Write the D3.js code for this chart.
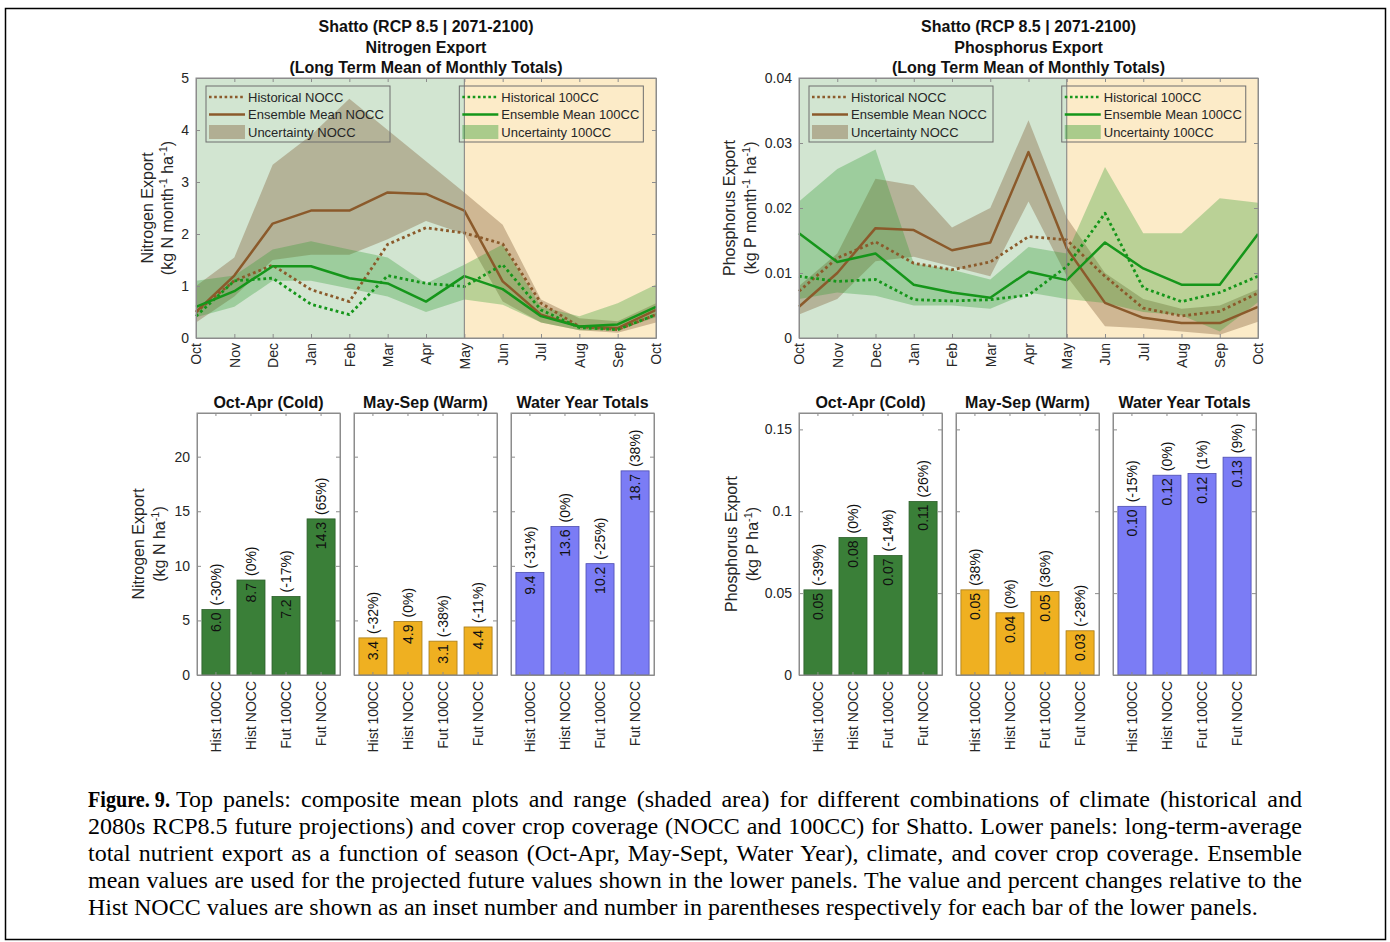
<!DOCTYPE html>
<html lang="en">
<head>
<meta charset="UTF-8">
<title>Shatto - nutrient export</title>
<script src="https://d3js.org/d3.v7.min.js"></script>
<style>
  body { margin: 0; background: #fff; }
  svg text { font-family: 'Liberation Sans', Arial, Helvetica, sans-serif; }
  svg text.caption { font-family: 'Liberation Serif', 'Times New Roman', serif; }
</style>
</head>
<body>
<div class="canvas"></div>
<script>
// ---- data: monthly curves (Oct .. Oct) ----
const months = ['Oct', 'Nov', 'Dec', 'Jan', 'Feb', 'Mar', 'Apr', 'May', 'Jun', 'Jul', 'Aug', 'Sep', 'Oct']

// nitrogen, kg N month-1 ha-1
const nHistNOCC = [0.5, 1.1, 1.4, 0.93, 0.7, 1.8, 2.12, 2.02, 1.81, 0.67, 0.22, 0.16, 0.45]
const nEnsNOCC  = [0.5, 1.2, 2.2, 2.45, 2.45, 2.8, 2.77, 2.45, 1.09, 0.45, 0.22, 0.19, 0.54]
const nLowNOCC  = [0.3, 0.8, 1.5, 1.6, 1.6, 1.9, 2.25, 2.0, 0.7, 0.3, 0.15, 0.1, 0.3]
const nHighNOCC = [1.0, 1.55, 3.33, 3.9, 4.6, 4.0, 3.4, 2.8, 2.18, 0.74, 0.38, 0.32, 0.67]
const nHist100  = [0.42, 1.1, 1.15, 0.65, 0.45, 1.2, 1.05, 0.99, 1.41, 0.54, 0.2, 0.16, 0.45]
const nEns100   = [0.6, 0.9, 1.38, 1.38, 1.15, 1.05, 0.7, 1.19, 0.94, 0.42, 0.22, 0.26, 0.6]
const nLow100   = [0.4, 0.6, 1.1, 1.1, 0.95, 0.8, 0.5, 0.74, 0.64, 0.3, 0.15, 0.15, 0.4]
const nHigh100  = [1.1, 1.2, 1.7, 1.86, 1.7, 1.55, 1.05, 1.41, 1.8, 0.6, 0.42, 0.67, 1.03]

// phosphorus, kg P month-1 ha-1
const pHistNOCC = [0.0072, 0.0123, 0.0148, 0.0115, 0.0105, 0.0117, 0.0156, 0.0151, 0.0095, 0.0046, 0.0034, 0.0041, 0.0069]
const pEnsNOCC  = [0.0048, 0.010, 0.0169, 0.0166, 0.0135, 0.0147, 0.0286, 0.0138, 0.0054, 0.0031, 0.0023, 0.0023, 0.0048]
const pLowNOCC  = [0.0036, 0.006, 0.0118, 0.0125, 0.011, 0.0095, 0.021, 0.0095, 0.0018, 0.0015, 0.001, 0.0005, 0.0025]
const pHighNOCC = [0.008, 0.013, 0.0245, 0.0235, 0.017, 0.020, 0.0335, 0.0185, 0.010, 0.006, 0.0045, 0.005, 0.0075]
const pHist100  = [0.0095, 0.0087, 0.009, 0.0059, 0.0057, 0.0059, 0.0066, 0.011, 0.0192, 0.0077, 0.0056, 0.007, 0.0095]
const pEns100   = [0.0161, 0.0117, 0.013, 0.0082, 0.007, 0.0062, 0.0102, 0.0089, 0.0147, 0.0107, 0.0082, 0.0082, 0.016]
const pLow100   = [0.006, 0.007, 0.0065, 0.005, 0.005, 0.0045, 0.007, 0.006, 0.0054, 0.004, 0.0035, 0.001, 0.0055]
const pHigh100  = [0.021, 0.026, 0.029, 0.0115, 0.0105, 0.009, 0.014, 0.013, 0.0263, 0.0161, 0.0161, 0.0215, 0.0208]

// ---- data: seasonal totals ----
const scenarios = ['Hist 100CC', 'Hist NOCC', 'Fut 100CC', 'Fut NOCC']
const seasons = ['Oct-Apr (Cold)', 'May-Sep (Warm)', 'Water Year Totals']

const nCold = [6.0, 8.7, 7.2, 14.3]
const nWarm = [3.4, 4.9, 3.1, 4.4]
const nYear = [9.4, 13.6, 10.2, 18.7]
const nColdPct = [-30, 0, -17, 65]
const nWarmPct = [-32, 0, -38, -11]
const nYearPct = [-31, 0, -25, 38]

const pCold = [0.052, 0.084, 0.073, 0.106]
const pWarm = [0.052, 0.038, 0.051, 0.027]
const pYear = [0.103, 0.122, 0.123, 0.133]
const pColdPct = [-39, 0, -14, 26]
const pWarmPct = [38, 0, 36, -28]
const pYearPct = [-15, 0, 1, 9]

const nTicksTop = [0, 1, 2, 3, 4, 5]
const pTicksTop = [0, 0.01, 0.02, 0.03, 0.04]
const nTicksBar = [0, 5, 10, 15, 20]
const pTicksBar = [0, 0.05, 0.1, 0.15]

const captionHead = 'Figure. 9.'
const captionLines = [
  'Top panels: composite mean plots and range (shaded area) for different combinations of climate (historical and',
  '2080s RCP8.5 future projections) and cover crop coverage (NOCC and 100CC) for Shatto. Lower panels: long-term-average',
  'total nutrient export as a function of season (Oct-Apr, May-Sept, Water Year), climate, and cover crop coverage. Ensemble',
  'mean values are used for the projected future values shown in the lower panels. The value and percent changes relative to the',
  'Hist NOCC values are shown as an inset number and number in parentheses respectively for each bar of the lower panels.'
]

// ---- styles ----
const brown = '#8b5a2b'
const green = '#15961a'
const coldBg = '#d2e5d1'
const warmBg = '#fcebc8'
const axisCol = '#8c8c8c'
const textCol = '#262626'
const barColors = ['#3a7f38', '#efb021', '#7b7cf5']
const barStroke = ['#2d5f2b', '#a67a18', '#4c4cb0']
const tickFont = 14
const labelFont = 16

const width = 1390
const height = 942

const svg = d3.select('.canvas')
  .append('svg')
  .attr('width', width)
  .attr('height', height)

svg.append('rect')
  .attr('x', 5.5).attr('y', 8.5)
  .attr('width', 1380).attr('height', 931)
  .attr('fill', '#fff').attr('stroke', '#000').attr('stroke-width', 1.5)

// rotated two-line y label, second line with superscripts
function yLabel(g, cx1, cx2, cy, line1, parts) {
  g.append('text')
    .attr('transform', `translate(${cx1},${cy}) rotate(-90)`)
    .attr('text-anchor', 'middle').attr('dy', '0.35em')
    .attr('font-size', labelFont).attr('fill', textCol)
    .text(line1)
  const t2 = g.append('text')
    .attr('transform', `translate(${cx2},${cy}) rotate(-90)`)
    .attr('text-anchor', 'middle').attr('y', 5)
    .attr('font-size', labelFont).attr('fill', textCol)
  let raised = false
  parts.forEach(p => {
    if (p.sup) {
      t2.append('tspan').attr('font-size', 11).attr('dy', -6).text(p.sup)
      raised = true
    } else {
      t2.append('tspan').attr('dy', raised ? 6 : 0).text(p.t)
      raised = false
    }
  })
}

function legend(g, x0, y0, items) {
  g.append('rect')
    .attr('x', x0).attr('y', y0).attr('width', 184).attr('height', 56)
    .attr('fill', 'none').attr('stroke', '#6e6e6e').attr('stroke-width', 1)
  items.forEach((it, i) => {
    const cy = y0 + 11 + i * 17.5
    if (it.kind === 'band') {
      g.append('rect').attr('x', x0 + 3).attr('y', cy - 7).attr('width', 36).attr('height', 14)
        .attr('fill', it.color).attr('fill-opacity', it.opacity)
    } else {
      g.append('line').attr('x1', x0 + 3).attr('x2', x0 + 39).attr('y1', cy).attr('y2', cy)
        .attr('stroke', it.color).attr('stroke-width', it.kind === 'dot' ? 2.6 : 2.4)
        .attr('stroke-dasharray', it.kind === 'dot' ? '2.6,2.6' : null)
    }
    g.append('text').attr('x', x0 + 42).attr('y', cy).attr('dy', '0.35em')
      .attr('font-size', 13).attr('fill', textCol).text(it.label)
  })
}

function styleAxes(g) {
  g.selectAll('.domain').attr('stroke', axisCol)
  g.selectAll('.tick line').attr('stroke', axisCol)
  g.selectAll('.tick text').attr('font-size', tickFont).attr('fill', textCol)
    .attr('font-family', "'Liberation Sans', Arial, sans-serif")
}

function topPanel(o) {
  const g = svg.append('g')
  const x = d3.scaleLinear().domain([0, months.length - 1]).range([o.left, o.right])
  const y = d3.scaleLinear().domain([0, o.yMax]).range([o.bottom, o.top])

  // season shading: cold Oct-May, warm May-Oct
  g.append('rect').attr('x', x(0)).attr('y', y(o.yMax))
    .attr('width', x(7) - x(0)).attr('height', y(0) - y(o.yMax)).attr('fill', coldBg)
  g.append('rect').attr('x', x(7)).attr('y', y(o.yMax))
    .attr('width', x(12) - x(7)).attr('height', y(0) - y(o.yMax)).attr('fill', warmBg)

  const area = d3.area().x((d, i) => x(i)).y0(d => y(d[0])).y1(d => y(d[1]))
  g.append('path').datum(d3.zip(o.lowNOCC, o.highNOCC)).attr('d', area)
    .attr('fill', '#7f5c36').attr('fill-opacity', 0.36)
  g.append('path').datum(d3.zip(o.low100, o.high100)).attr('d', area)
    .attr('fill', '#2f9a2f').attr('fill-opacity', 0.32)

  const line = d3.line().x((d, i) => x(i)).y(d => y(d))
  const series = [
    [o.histNOCC, brown, true], [o.ensNOCC, brown, false],
    [o.hist100, green, true], [o.ens100, green, false]
  ]
  series.forEach(([vals, col, dotted]) => {
    g.append('path').datum(vals).attr('d', line)
      .attr('fill', 'none').attr('stroke', col)
      .attr('stroke-width', dotted ? 2.8 : 2.5)
      .attr('stroke-dasharray', dotted ? '2.8,3' : null)
      .attr('stroke-linejoin', 'round')
  })

  // May divider
  g.append('line').attr('x1', x(7)).attr('x2', x(7)).attr('y1', y(0)).attr('y2', y(o.yMax))
    .attr('stroke', '#7d7d7d').attr('stroke-width', 1)

  // axes
  const xb = g.append('g').attr('transform', `translate(0,${o.bottom})`)
    .call(d3.axisBottom(x).tickValues(d3.range(13)).tickFormat(i => months[i]).tickSizeInner(-4).tickSizeOuter(0))
  xb.selectAll('text')
    .attr('transform', 'rotate(-90)').attr('text-anchor', 'end')
    .attr('x', -5).attr('y', 0).attr('dy', '0.35em')
  g.append('g').attr('transform', `translate(0,${o.top})`)
    .call(d3.axisTop(x).tickValues(d3.range(13)).tickFormat('').tickSizeInner(-4).tickSizeOuter(0))
  g.append('g').attr('transform', `translate(${o.left},0)`)
    .call(d3.axisLeft(y).tickValues(o.ticks).tickFormat(o.fmt).tickSizeInner(-4).tickSizeOuter(0).tickPadding(7))
  g.append('g').attr('transform', `translate(${o.right},0)`)
    .call(d3.axisRight(y).tickValues(o.ticks).tickFormat('').tickSizeInner(-4).tickSizeOuter(0))
  styleAxes(g)
  g.append('rect').attr('x', o.left).attr('y', o.top)
    .attr('width', o.right - o.left).attr('height', o.bottom - o.top)
    .attr('fill', 'none').attr('stroke', axisCol)

  legend(g, o.left + 10, o.top + 8, [
    { kind: 'dot', color: brown, label: 'Historical NOCC' },
    { kind: 'line', color: brown, label: 'Ensemble Mean NOCC' },
    { kind: 'band', color: '#7f5c36', opacity: 0.4, label: 'Uncertainty NOCC' }
  ])
  legend(g, x(7) - 5, o.top + 8, [
    { kind: 'dot', color: green, label: 'Historical 100CC' },
    { kind: 'line', color: green, label: 'Ensemble Mean 100CC' },
    { kind: 'band', color: '#2f9a2f', opacity: 0.4, label: 'Uncertainty 100CC' }
  ])

  const cx = (o.left + o.right) / 2
  ;['Shatto (RCP 8.5 | 2071-2100)', o.title, '(Long Term Mean of Monthly Totals)'].forEach((t, i) => {
    g.append('text').attr('x', cx).attr('y', 32 + i * 20.5)
      .attr('text-anchor', 'middle').attr('font-size', 16).attr('font-weight', 'bold')
      .attr('fill', '#111').text(t)
  })
  yLabel(g, o.lab[0], o.lab[1], (o.top + o.bottom) / 2, o.yLabel1, o.yLabel2)
}

function barPanels(o) {
  const g = svg.append('g')
  const y = d3.scaleLinear().domain([0, o.yMax]).range([o.bottom, o.top])
  const panelW = 143
  const gap = 14
  o.sets.forEach((set, k) => {
    const left = o.left + k * (panelW + gap)
    const x = d3.scaleBand().domain(scenarios).range([left, left + panelW])
      .paddingInner(0.2).paddingOuter(0.14)
    const pg = g.append('g')

    pg.selectAll('rect.bar').data(set.vals).enter().append('rect')
      .attr('class', 'bar')
      .attr('x', (d, i) => x(scenarios[i]))
      .attr('y', d => y(d))
      .attr('width', x.bandwidth())
      .attr('height', d => y(0) - y(d))
      .attr('fill', barColors[k]).attr('stroke', barStroke[k]).attr('stroke-width', 0.8)

    pg.selectAll('text.val').data(set.vals).enter().append('text')
      .attr('class', 'val')
      .attr('transform', (d, i) => `translate(${x(scenarios[i]) + x.bandwidth() / 2},${y(d)}) rotate(-90)`)
      .attr('x', -3).attr('dy', '0.35em').attr('text-anchor', 'end')
      .attr('font-size', 14).attr('fill', '#111')
      .text(d => o.fmt(d))
    pg.selectAll('text.pct').data(set.pct).enter().append('text')
      .attr('class', 'pct')
      .attr('transform', (d, i) => `translate(${x(scenarios[i]) + x.bandwidth() / 2},${y(set.vals[i])}) rotate(-90)`)
      .attr('x', 4).attr('dy', '0.35em').attr('text-anchor', 'start')
      .attr('font-size', 14).attr('fill', '#111')
      .text(d => `(${d}%)`)

    const xb = pg.append('g').attr('transform', `translate(0,${o.bottom})`)
      .call(d3.axisBottom(x).tickSizeInner(-3).tickSizeOuter(0))
    xb.selectAll('text')
      .attr('transform', 'rotate(-90)').attr('text-anchor', 'end')
      .attr('x', -6).attr('y', 0).attr('dy', '0.35em')
    pg.append('g').attr('transform', `translate(0,${o.top})`)
      .call(d3.axisTop(x).tickFormat('').tickSizeInner(-3).tickSizeOuter(0))
    pg.append('g').attr('transform', `translate(${left},0)`)
      .call(d3.axisLeft(y).tickValues(o.ticks).tickFormat(k === 0 ? o.tickFmt : '')
        .tickSizeInner(-4).tickSizeOuter(0).tickPadding(7))
    pg.append('g').attr('transform', `translate(${left + panelW},0)`)
      .call(d3.axisRight(y).tickValues(o.ticks).tickFormat('').tickSizeInner(-4).tickSizeOuter(0))
    pg.append('rect').attr('x', left).attr('y', o.top).attr('width', panelW).attr('height', o.bottom - o.top)
      .attr('fill', 'none').attr('stroke', axisCol)
    pg.append('text').attr('x', left + panelW / 2).attr('y', o.top - 5)
      .attr('text-anchor', 'middle').attr('font-size', 16).attr('font-weight', 'bold')
      .attr('fill', '#111').text(seasons[k])
  })
  styleAxes(g)
  yLabel(g, o.lab[0], o.lab[1], (o.top + o.bottom) / 2, o.yLabel1, o.yLabel2)
}

topPanel({
  left: 196, right: 656, top: 78, bottom: 338, yMax: 5,
  ticks: nTicksTop, fmt: d3.format('d'),
  title: 'Nitrogen Export', lab: [147, 168],
  yLabel1: 'Nitrogen Export',
  yLabel2: [{ t: '(kg N month' }, { sup: '-1' }, { t: ' ha' }, { sup: '-1' }, { t: ')' }],
  histNOCC: nHistNOCC, ensNOCC: nEnsNOCC, lowNOCC: nLowNOCC, highNOCC: nHighNOCC,
  hist100: nHist100, ens100: nEns100, low100: nLow100, high100: nHigh100
})

topPanel({
  left: 799, right: 1258, top: 78, bottom: 338, yMax: 0.04,
  ticks: pTicksTop, fmt: d => d === 0 ? '0' : d3.format('.2f')(d),
  title: 'Phosphorus Export', lab: [729, 751],
  yLabel1: 'Phosphorus Export',
  yLabel2: [{ t: '(kg P month' }, { sup: '-1' }, { t: ' ha' }, { sup: '-1' }, { t: ')' }],
  histNOCC: pHistNOCC, ensNOCC: pEnsNOCC, lowNOCC: pLowNOCC, highNOCC: pHighNOCC,
  hist100: pHist100, ens100: pEns100, low100: pLow100, high100: pHigh100
})

barPanels({
  left: 197, top: 413, bottom: 675, yMax: 24, lab: [138, 160],
  ticks: nTicksBar, tickFmt: d3.format('d'), fmt: d3.format('.1f'),
  yLabel1: 'Nitrogen Export',
  yLabel2: [{ t: '(kg N ha' }, { sup: '-1' }, { t: ')' }],
  sets: [
    { vals: nCold, pct: nColdPct },
    { vals: nWarm, pct: nWarmPct },
    { vals: nYear, pct: nYearPct }
  ]
})

barPanels({
  left: 799, top: 413, bottom: 675, yMax: 0.16, lab: [731, 753],
  ticks: pTicksBar, tickFmt: d => d === 0 ? '0' : String(+d.toFixed(2)), fmt: d3.format('.2f'),
  yLabel1: 'Phosphorus Export',
  yLabel2: [{ t: '(kg P ha' }, { sup: '-1' }, { t: ')' }],
  sets: [
    { vals: pCold, pct: pColdPct },
    { vals: pWarm, pct: pWarmPct },
    { vals: pYear, pct: pYearPct }
  ]
})

// caption: bold head, then justified lines (last line left aligned)
const capLeft = 88
const capRight = 1302
const cap = svg.append('g')
cap.append('text').attr('class', 'caption')
  .attr('x', capLeft).attr('y', 807)
  .attr('font-size', 24).attr('font-weight', 'bold')
  .attr('textLength', 82).attr('lengthAdjust', 'spacingAndGlyphs')
  .text(captionHead)
captionLines.forEach((line, i) => {
  const x0 = i === 0 ? 176 : capLeft
  const t = cap.append('text').attr('class', 'caption')
    .attr('x', x0).attr('y', 807 + i * 27)
    .attr('font-size', 24).attr('fill', '#000')
    .text(line)
  if (i < captionLines.length - 1) {
    const spaces = line.split(' ').length - 1
    const extra = (capRight - x0) - t.node().getComputedTextLength()
    t.attr('word-spacing', Math.max(0, extra / spaces))
  }
})
</script>
</body>
</html>
